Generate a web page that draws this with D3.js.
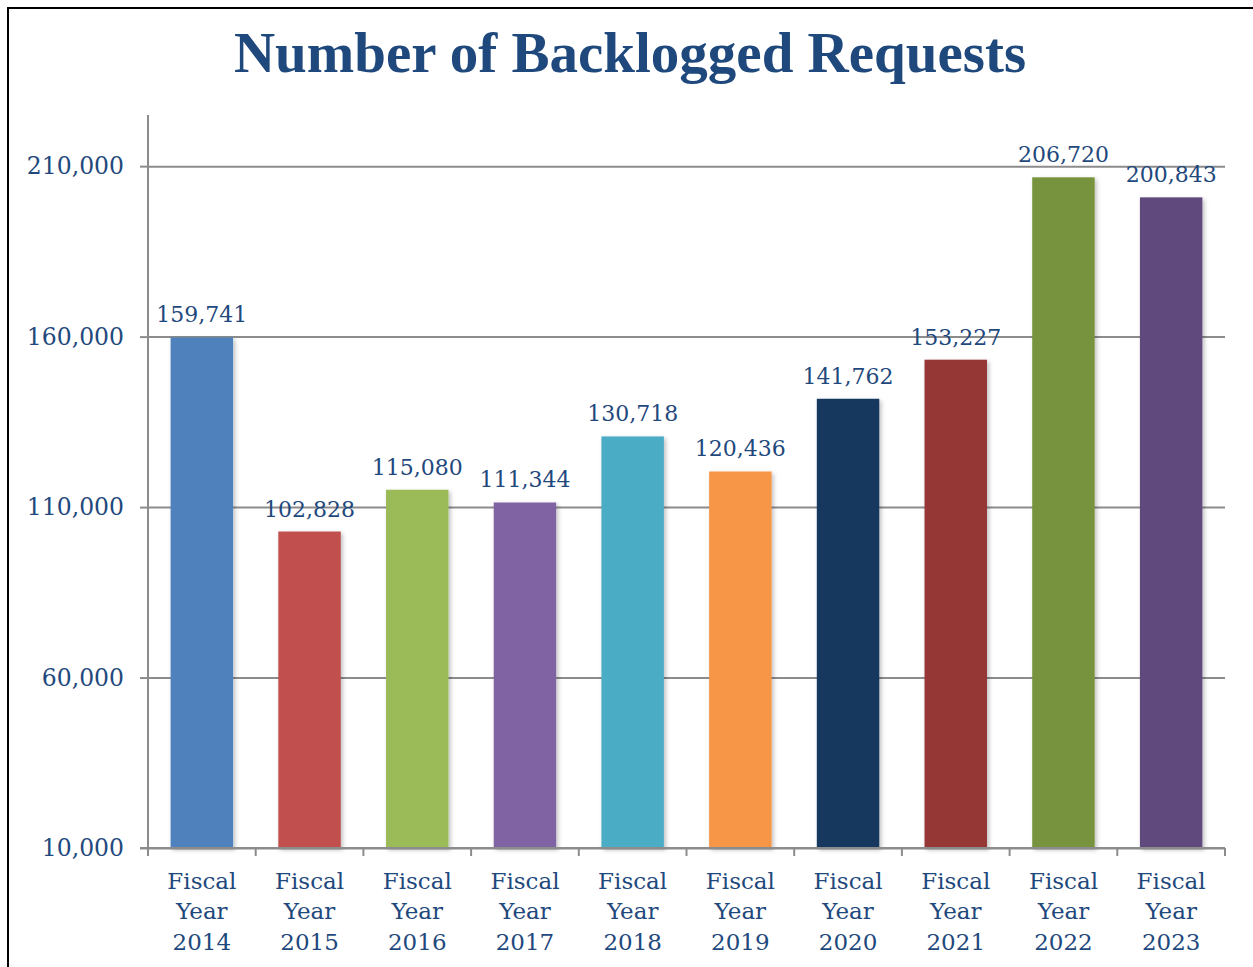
<!DOCTYPE html>
<html>
<head>
<meta charset="utf-8">
<script src="https://cdn.jsdelivr.net/npm/d3@7"></script>
<style>
  body { margin: 0; background: #fff; }
  svg text { font-family: "DejaVu Serif", Georgia, serif; fill: #1F497D; }
</style>
</head>
<body>
<svg width="1253" height="967"></svg>
<script>
var years = ["2014", "2015", "2016", "2017", "2018", "2019", "2020", "2021", "2022", "2023"];
var backlog = [159741, 102828, 115080, 111344, 130718, 120436, 141762, 153227, 206720, 200843];
var barColors = ["#4F81BD", "#C0504D", "#9BBB59", "#8064A2", "#4BACC6", "#F79646", "#17375E", "#953735", "#77933C", "#604A7B"];
var yTicks = [10000, 60000, 110000, 160000, 210000];

var svg = d3.select("svg"),
    margin = {top: 115, right: 28, bottom: 119, left: 148},
    width = svg.attr("width") - margin.left - margin.right,
    height = svg.attr("height") - margin.top - margin.bottom,
    g = svg.append("g").attr("transform", "translate(" + margin.left + "," + margin.top + ")");

// frame (top and left edges only are visible)
svg.append("path")
    .attr("d", "M8,967V8H1253")
    .attr("fill", "none")
    .attr("stroke", "#000")
    .attr("stroke-width", 2);

var defs = svg.append("defs");
var shadow = defs.append("filter").attr("id", "shadow")
    .attr("x", "-10%").attr("y", "-10%").attr("width", "130%").attr("height", "130%");
shadow.append("feDropShadow")
    .attr("dx", 2).attr("dy", 2).attr("stdDeviation", 2)
    .attr("flood-color", "#000").attr("flood-opacity", 0.25);

svg.append("text")
    .attr("x", 630)
    .attr("y", 72)
    .attr("text-anchor", "middle")
    .style("font-family", "'Liberation Serif', serif")
    .style("font-weight", "bold")
    .style("font-size", "57px")
    .text("Number of Backlogged Requests");

var x = d3.scaleBand().domain(years).range([0, width]).paddingInner(0.42).paddingOuter(0.21),
    y = d3.scaleLinear().domain([10000, 225000]).range([height, 0]);

// Gridlines
g.append("g")
    .attr("class", "grid")
    .call(d3.axisLeft(y).tickValues(yTicks).tickSize(-width).tickFormat(""))
    .call(function(s) {
        s.select(".domain").remove();
        s.selectAll("line").attr("stroke", "#8c8c8c").attr("stroke-width", 2);
    });

// Y axis
g.append("g")
    .attr("class", "axis axis--y")
    .call(d3.axisLeft(y).tickValues(yTicks).tickSize(8).tickPadding(16).tickFormat(d3.format(",")))
    .call(function(s) {
        s.select(".domain").attr("stroke", "#8c8c8c").attr("stroke-width", 2).attr("d", "M0,0V" + height);
        s.selectAll("line").attr("stroke", "#8c8c8c").attr("stroke-width", 2);
        s.selectAll("text").style("font-size", "23.5px").attr("fill", "#1F497D");
    });

// Bars
g.selectAll(".bar")
    .data(backlog)
    .enter().append("rect")
    .attr("class", "bar")
    .attr("x", function(d, i) { return x(years[i]); })
    .attr("y", function(d) { return y(d); })
    .attr("width", x.bandwidth())
    .attr("height", function(d) { return height - y(d); })
    .attr("fill", function(d, i) { return barColors[i]; })
    .attr("filter", "url(#shadow)");

// X axis with ticks at category boundaries
var xa = g.append("g").attr("class", "axis axis--x").attr("transform", "translate(0," + height + ")");
xa.append("path")
    .attr("d", "M-8,0H" + width)
    .attr("stroke", "#8c8c8c").attr("stroke-width", 2);
xa.selectAll(".tick")
    .data(d3.range(years.length + 1))
    .enter().append("line")
    .attr("x1", function(i) { return i * width / years.length; })
    .attr("x2", function(i) { return i * width / years.length; })
    .attr("y1", 0).attr("y2", 8)
    .attr("stroke", "#8c8c8c").attr("stroke-width", 2);

var lab = xa.selectAll(".lab")
    .data(years)
    .enter().append("text")
    .attr("class", "lab")
    .attr("text-anchor", "middle")
    .style("font-size", "23px")
    .attr("transform", function(d) { return "translate(" + (x(d) + x.bandwidth() / 2) + ",0)"; });
lab.append("tspan").attr("x", 0).attr("y", 41).text("Fiscal");
lab.append("tspan").attr("x", 0).attr("y", 71).text("Year");
lab.append("tspan").attr("x", 0).attr("y", 102).text(function(d) { return d; });

// Value labels
g.selectAll(".value")
    .data(backlog)
    .enter().append("text")
    .attr("class", "value")
    .attr("text-anchor", "middle")
    .attr("x", function(d, i) { return x(years[i]) + x.bandwidth() / 2; })
    .attr("y", function(d) { return y(d) - 15; })
    .style("font-size", "22px")
    .text(d3.format(","));
</script>
</body>
</html>
